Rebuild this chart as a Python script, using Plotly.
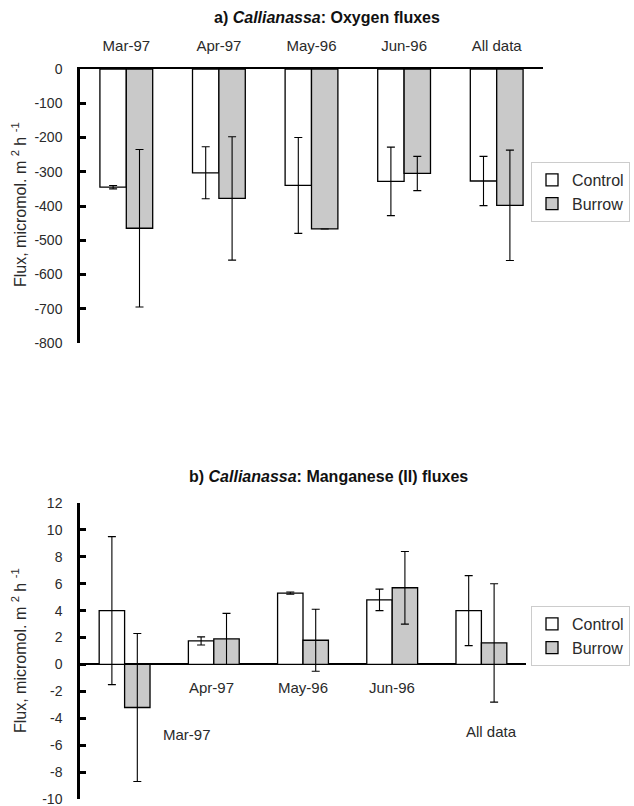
import plotly.graph_objects as go

# ---------------- data ----------------
categories = ["Mar-97", "Apr-97", "May-96", "Jun-96", "All data"]

oxy_control = [-345, -303, -340, -328, -327]
oxy_control_err = [5, 76, 140, 100, 72]
oxy_burrow = [-465, -378, -467, -305, -398]
oxy_burrow_err = [230, 180, None, 50, 161]

mn_control = [4.0, 1.75, 5.3, 4.8, 4.0]
mn_control_err = [5.5, 0.3, 0.08, 0.8, 2.6]
mn_burrow = [-3.2, 1.9, 1.8, 5.7, 1.6]
mn_burrow_err = [5.5, 1.9, 2.3, 2.7, 4.4]

oxy_ticks = [0, -100, -200, -300, -400, -500, -600, -700, -800]
oxy_ticktext = ["0", "-100", "-200", "-300", "-400", "-500", "-600", "-700", "-800"]
mn_ticks = [12, 10, 8, 6, 4, 2, 0, -2, -4, -6, -8, -10]
mn_ticktext = ["12", "10", "8", "6", "4", "2", "0", "-2", "-4", "-6", "-8", "-10"]

# label placement for bottom chart category labels (positions, not data)
mn_label_y = [-5.2, -1.7, -1.7, -1.7, -5.0]
mn_label_xshift = [62, -2, 0, 0, 10]

# ---------------- style ----------------
FONT = "Liberation Sans, Arial, sans-serif"
TXT = "#2a2a2a"
W, H = 634, 806

def px_x(p):
    return p / W

def px_y(p):
    return 1 - p / H

fig = go.Figure()

bar_line = dict(color="black", width=1.3)
err_style = dict(type="data", symmetric=True, color="black", thickness=1.1, width=4)

fig.add_trace(go.Bar(x=categories, y=oxy_control, name="Control",
                     marker=dict(color="white", line=bar_line),
                     error_y=dict(array=oxy_control_err, **err_style),
                     xaxis="x", yaxis="y", legend="legend"))
fig.add_trace(go.Bar(x=categories, y=oxy_burrow, name="Burrow",
                     marker=dict(color="#c9c9c9", line=bar_line),
                     error_y=dict(array=oxy_burrow_err, **err_style),
                     xaxis="x", yaxis="y", legend="legend"))
fig.add_trace(go.Bar(x=categories, y=mn_control, name="Control",
                     marker=dict(color="white", line=bar_line),
                     error_y=dict(array=mn_control_err, **err_style),
                     xaxis="x2", yaxis="y2", legend="legend2"))
fig.add_trace(go.Bar(x=categories, y=mn_burrow, name="Burrow",
                     marker=dict(color="#c9c9c9", line=bar_line),
                     error_y=dict(array=mn_burrow_err, **err_style),
                     xaxis="x2", yaxis="y2", legend="legend2"))

axis_font = dict(family=FONT, size=14, color=TXT)

annotations = [
    dict(text="<b>a) <i>Callianassa</i>: Oxygen fluxes</b>", x=px_x(327), y=px_y(17),
         xref="paper", yref="paper", showarrow=False, xanchor="center", yanchor="middle",
         font=dict(family=FONT, size=16, color="#111")),
    dict(text="<b>b) <i>Callianassa</i>: Manganese (II) fluxes</b>", x=px_x(328), y=px_y(476),
         xref="paper", yref="paper", showarrow=False, xanchor="center", yanchor="middle",
         font=dict(family=FONT, size=16, color="#111")),
    dict(text="Flux, micromol. m <sup>2</sup> h <sup>-1</sup>", x=px_x(19), y=px_y(205),
         xref="paper", yref="paper", showarrow=False, textangle=-90,
         xanchor="center", yanchor="middle",
         font=dict(family=FONT, size=16, color=TXT)),
    dict(text="Flux, micromol. m <sup>2</sup> h <sup>-1</sup>", x=px_x(19), y=px_y(651),
         xref="paper", yref="paper", showarrow=False, textangle=-90,
         xanchor="center", yanchor="middle",
         font=dict(family=FONT, size=16, color=TXT)),
]
for cat, ly, xs in zip(categories, mn_label_y, mn_label_xshift):
    annotations.append(dict(text=cat, x=cat, y=ly, xref="x2", yref="y2",
                            showarrow=False, xshift=xs,
                            font=dict(family=FONT, size=15, color=TXT)))

legend_style = dict(xanchor="left", yanchor="top",
                    bgcolor="rgba(255,255,255,0)", bordercolor="#cccccc", borderwidth=1,
                    font=dict(family=FONT, size=16, color=TXT), itemwidth=30,
                    tracegroupgap=0)

fig.update_layout(
    width=W, height=H,
    margin=dict(l=0, r=0, t=0, b=0, autoexpand=False),
    paper_bgcolor="white", plot_bgcolor="white",
    barmode="group", bargap=0.43, bargroupgap=0,
    font=dict(family=FONT, color=TXT),
    xaxis=dict(domain=[px_x(80), px_x(543)], anchor="y", side="top",
               showline=True, linecolor="black", linewidth=2.2,
               ticks="", showgrid=False, tickfont=dict(family=FONT, size=15, color=TXT),
               ticklabelstandoff=10, fixedrange=True, automargin=False),
    yaxis=dict(domain=[px_y(343), px_y(69)], anchor="x", range=[-800, 0],
               tickvals=oxy_ticks, ticktext=oxy_ticktext,
               showline=True, linecolor="black", linewidth=2.5,
               ticks="inside", ticklen=6, tickwidth=2.5, tickcolor="black",
               showgrid=False, zeroline=False, tickfont=axis_font,
               ticklabelstandoff=12, automargin=False, ticklabeloverflow="allow"),
    xaxis2=dict(domain=[px_x(80), px_x(526)], anchor="y2",
                showline=False, showticklabels=False, ticks="", showgrid=False,
                automargin=False),
    yaxis2=dict(domain=[px_y(799), px_y(503)], anchor="x2", range=[-10, 12],
                tickvals=mn_ticks, ticktext=mn_ticktext,
                showline=True, linecolor="black", linewidth=2.5,
                ticks="inside", ticklen=6, tickwidth=2.5, tickcolor="black",
                showgrid=False, zeroline=True, zerolinecolor="black", zerolinewidth=2.2,
                tickfont=axis_font, ticklabelstandoff=12, automargin=False,
                ticklabeloverflow="allow"),
    legend=dict(x=px_x(531), y=px_y(162), **legend_style),
    legend2=dict(x=px_x(531), y=px_y(606), **legend_style),
    annotations=annotations,
)

fig.write_html("out.html")
